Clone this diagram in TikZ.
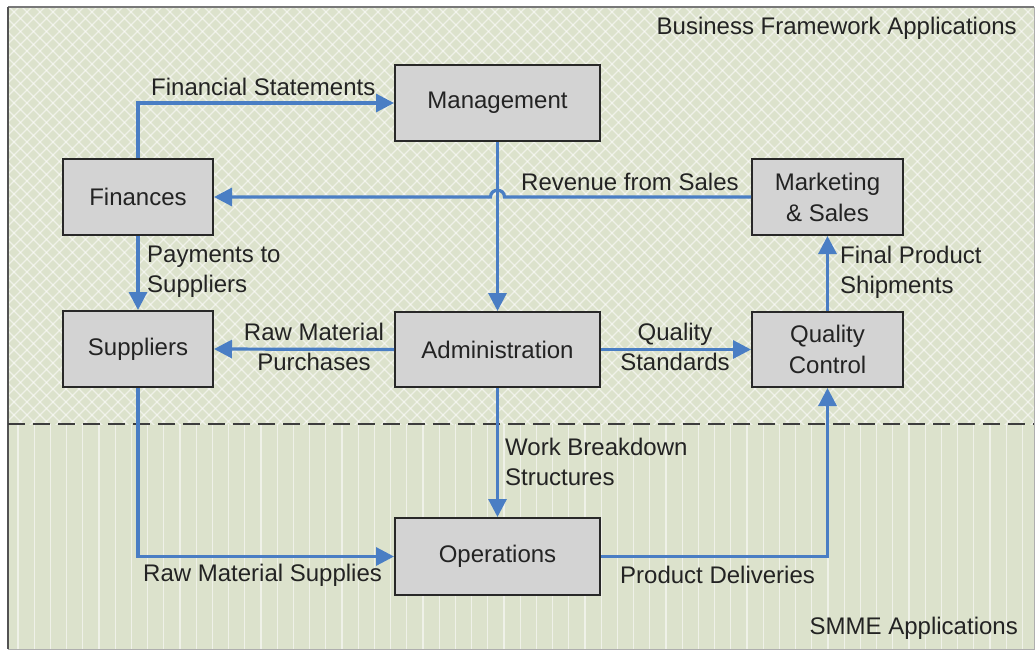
\documentclass[tikz,border=0pt]{standalone}
\usepackage{fontspec}
\setmainfont{Liberation Sans}
\usetikzlibrary{arrows.meta,calc}
\definecolor{bgc}{RGB}{220,226,204}
\definecolor{boxc}{RGB}{211,211,211}
\definecolor{edgec}{RGB}{40,40,40}
\definecolor{txtc}{RGB}{35,35,35}
\definecolor{arrc}{RGB}{74,126,196}
\definecolor{framec}{RGB}{120,120,120}
\begin{document}
\begin{tikzpicture}[x=1pt,y=-1pt,
  box/.style={draw=edgec,line width=2pt,fill=boxc,inner sep=0pt,align=center,text=txtc,font=\fontsize{24}{31}\selectfont},
  lbl/.style={inner sep=0pt,text=txtc,font=\fontsize{24}{30}\selectfont},
  flow/.style={draw=arrc,line width=3.2pt,-{Triangle[length=18pt,width=18pt]}},
  pat/.style={draw=white,line width=1.2pt,opacity=0.55}]
\useasboundingbox (0,0) rectangle (1035,651);
% frame and background
\fill[bgc] (8,7) rectangle (1034,649);
\begin{scope}
  \clip (8,7) rectangle (1034,424);
  \foreach \x in {-440,-427,...,1040} {\draw[pat] (\x,0) -- ++(440,440);}
  \foreach \x in {0,13,...,1480} {\draw[pat] (\x,0) -- ++(-440,440);}
\end{scope}
\begin{scope}
  \clip (8,424) rectangle (1034,649);
  \foreach \x in {18,34.2,...,1034} {\draw[pat] (\x,424) -- (\x,649);}
\end{scope}
\draw[framec,line width=2.5pt] (8,7) -- (1034,7);
\draw[edgec!80,line width=2pt] (8,7) -- (8,649);
\draw[framec!60,line width=1pt] (8,649) -- (1034,649) -- (1034,7);
\draw[edgec!90,line width=2.5pt,dash pattern=on 17pt off 8pt] (8,424) -- (1034,424);
% region labels
\node[lbl,anchor=east] (bfa) at (1017,28) {Business Framework Applications};
\node[lbl,anchor=east] (smme) at (1018,628) {SMME Applications};
% boxes
\node[box,minimum width=205pt,minimum height=76pt] (Mgmt) at (497.5,103) {Management};
\node[box,minimum width=150pt,minimum height=76pt] (Fin) at (138,197) {Finances};
\node[box,minimum width=151pt,minimum height=76pt] (Mkt) at (827.5,197) {Marketing\\\& Sales};
\node[box,minimum width=150pt,minimum height=76pt] (Sup) at (138,349) {Suppliers};
\node[box,minimum width=205pt,minimum height=75pt] (Adm) at (497.5,349.5) {Administration};
\node[box,minimum width=151pt,minimum height=75pt] (QC) at (827.5,349.5) {Quality\\Control};
\node[box,minimum width=205pt,minimum height=77pt] (Ops) at (497.5,556.5) {Operations};
% connectors
\draw[flow] (Fin.north) |- (Mgmt.west);
\draw[flow] (Mgmt.south) -- (Adm.north);
\coordinate (hopR) at ($(Mgmt.south |- Mkt.west)+(7,0)$);
\coordinate (hopL) at ($(Mgmt.south |- Mkt.west)+(-7,0)$);
\draw[flow] (Mkt.west) -- (hopR) .. controls ($(hopR)+(0,-9)$) and ($(hopL)+(0,-9)$) .. (hopL) -- (Fin.east);
\draw[flow] (Fin.south) -- (Sup.north);
\draw[flow] (Adm.west) -- (Sup.east);
\draw[flow] (Adm.east) -- (QC.west);
\draw[flow] (QC.north) -- (Mkt.south);
\draw[flow] (Adm.south) -- (Ops.north);
\draw[flow] (Sup.south) |- (Ops.west);
\draw[flow] (Ops.east) -| (QC.south);
% connector labels
\node[lbl,anchor=west] (lFS) at (151,87) {Financial Statements};
\node[lbl,anchor=west] (lRS) at (521,182) {Revenue from Sales};
\node[lbl,anchor=west,align=left] (lPS) at (147,272) {Payments to\\Suppliers};
\node[lbl,align=center] (lRMP) at (314,347) {Raw Material\\Purchases};
\node[lbl,align=center] (lQS) at (675,347) {Quality\\Standards};
\node[lbl,anchor=west,align=left] (lFPS) at (840,272) {Final Product\\Shipments};
\node[lbl,anchor=west,align=left] (lWBS) at (505,462) {Work Breakdown\\Structures};
\node[lbl,anchor=west] (lRMS) at (143,575) {Raw Material Supplies};
\node[lbl,anchor=west] (lPD) at (620,575) {Product Deliveries};
\end{tikzpicture}
\end{document}
